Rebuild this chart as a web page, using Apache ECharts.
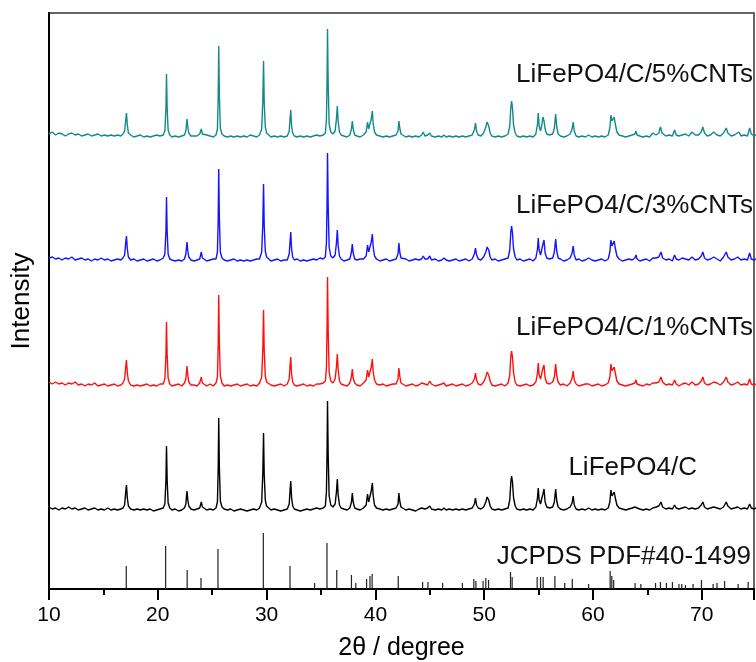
<!DOCTYPE html>
<html>
<head>
<meta charset="utf-8">
<title>XRD LiFePO4/C</title>
<script src="https://cdn.jsdelivr.net/npm/echarts@6/dist/echarts.min.js"></script>
<style>
  html, body { margin: 0; padding: 0; background: #fff; }
  .echarts_xrd { width: 756px; height: 662px; }
</style>
</head>
<body>
<div class="echarts_xrd"></div>
<script>
// 2θ (degree) / intensity, intensity relative to each pattern's own baseline
var cnt5 = [[10.0,2],[10.3,4],[10.6,1],[10.9,3],[11.2,2],[11.5,0],[11.8,2],[12.1,3],[12.4,1],[12.7,2],[13.0,0],[13.3,1],[13.6,2],[13.9,0],[14.2,1],[14.5,2],[14.8,0],[15.1,1],[15.4,0],[15.7,1],[16.0,0],[16.3,1],[16.6,0],[16.8,2],
  [16.95,5],[17.05,16],[17.12,23],[17.2,11],[17.3,3],[17.5,1],[17.8,-1],[18.1,0],[18.4,1],[18.7,-1],[19.0,0],[19.3,-1],[19.6,0],[19.9,1],[20.2,0],[20.5,1],
  [20.65,5],[20.75,28],[20.8,62],[20.86,28],[20.95,6],[21.1,1],[21.3,-1],[21.6,0],[21.9,-1],[22.2,0],[22.45,1],
  [22.58,5],[22.68,17],[22.76,9],[22.85,3],[22.95,1],[23.05,0],[23.2,2],[23.35,0],[23.6,0],[23.85,2],
  [24.0,7],[24.1,2],[24.25,0],[24.5,1],[24.8,0],[25.1,-1],[25.35,1],
  [25.48,7],[25.55,38],[25.6,90],[25.66,40],[25.75,8],[25.9,2],[26.1,0],[26.4,-1],[26.7,0],[27.0,-1],[27.3,0],[27.6,-1],[27.9,0],[28.2,-1],[28.5,1],[28.8,0],[29.1,-1],[29.35,1],
  [29.55,7],[29.65,34],[29.72,75],[29.78,34],[29.88,9],[30.0,3],[30.15,1],[30.4,-1],[30.7,0],[31.0,-1],[31.3,0],[31.6,-1],[31.9,0],
  [32.08,5],[32.16,18],[32.22,26],[32.3,10],[32.4,3],[32.55,0],[32.8,-1],[33.1,0],[33.4,-1],[33.7,0],[34.0,-1],[34.3,0],[34.6,1],[34.9,0],[35.2,1],[35.4,3],
  [35.5,16],[35.56,58],[35.6,107],[35.66,52],[35.75,12],[35.9,4],[36.1,2],[36.3,5],
  [36.42,17],[36.5,30],[36.58,14],[36.7,4],[36.85,1],[37.1,0],[37.4,-1],[37.65,1],
  [37.8,7],[37.88,15],[37.96,7],[38.1,1],[38.3,0],[38.6,-1],[38.9,1],[39.15,4],
  [39.28,14],[39.38,7],[39.5,9],[39.62,17],[39.72,25],[39.8,12],[39.92,4],[40.1,1],[40.4,0],[40.7,-1],[41.0,0],[41.3,-1],[41.6,0],[41.9,1],
  [42.08,5],[42.16,15],[42.24,8],[42.35,2],[42.5,0],[42.8,-1],[43.1,0],[43.4,-1],[43.7,0],[44.0,-1],[44.25,1],[44.4,4],[44.55,0],[44.8,1],[45.0,3],[45.15,0],[45.5,-1],[45.8,0],[46.1,-1],[46.3,1],[46.5,-1],[46.8,0],[47.1,-1],[47.4,0],[47.7,-1],[48.0,0],[48.3,-1],[48.6,0],[48.9,1],
  [49.1,6],[49.2,13],[49.3,5],[49.45,1],[49.7,0],[49.95,3],[50.15,9],[50.27,14],[50.42,10],[50.55,3],[50.7,0],[51.0,-1],[51.3,0],[51.6,-1],[51.9,0],[52.2,2],
  [52.35,10],[52.45,29],[52.52,35],[52.6,28],[52.7,11],[52.85,3],[53.0,0],[53.3,-1],[53.6,0],[53.9,-1],[54.2,0],[54.5,-1],[54.75,2],
  [54.9,12],[54.97,23],[55.05,10],[55.18,5],[55.3,11],[55.4,19],[55.5,15],[55.6,7],[55.75,2],[56.0,1],[56.3,2],
  [56.45,8],[56.57,22],[56.67,9],[56.8,2],[57.0,0],[57.3,-1],[57.6,0],[57.9,2],[58.08,7],[58.18,14],[58.28,5],[58.45,0],
  [58.7,-1],[59.0,0],[59.3,-1],[59.6,1],[59.9,-1],[60.2,0],[60.5,-1],[60.8,0],[61.1,-1],[61.4,1],
  [61.55,8],[61.65,21],[61.75,15],[61.85,17],[61.95,19],[62.05,12],[62.2,4],[62.4,1],
  [62.7,0],[63.0,-1],[63.3,0],[63.6,1],[63.85,2],[63.95,5],[64.05,1],[64.3,0],[64.6,-1],[64.9,0],[65.2,-1],[65.5,3],[65.8,1],[66.05,3],[66.2,9],[66.35,3],[66.7,0],[67.0,1],[67.3,0],[67.5,6],[67.65,1],[67.9,0],[68.2,1],[68.5,2],[68.8,0],[69.1,4],[69.4,1],[69.7,1],[69.95,4],[70.1,9],[70.25,3],[70.5,0],[70.8,1],[71.1,4],[71.4,1],[71.7,0],[72.0,3],[72.25,8],[72.4,3],[72.7,0],[73.0,1],[73.4,4],[73.6,0],[73.9,1],[74.2,0],[74.4,8],[74.55,2],[74.8,0],[75.0,1]];

var cnt3 = [[10.0,2],[10.3,3],[10.6,1],[10.9,2],[11.2,0],[11.5,2],[11.8,1],[12.1,3],[12.4,0],[12.7,1],[13.0,2],[13.3,0],[13.6,1],[13.9,-1],[14.2,1],[14.5,0],[14.8,2],[15.1,0],[15.4,1],[15.7,-1],[16.0,0],[16.3,1],[16.6,0],[16.8,2],
  [16.95,5],[17.05,17],[17.12,24],[17.2,11],[17.3,3],[17.5,0],[17.8,1],[18.1,-1],[18.4,0],[18.7,1],[19.0,-1],[19.3,0],[19.6,1],[19.9,-1],[20.2,0],[20.5,2],
  [20.65,6],[20.75,29],[20.8,63],[20.86,29],[20.95,6],[21.1,1],[21.3,0],[21.6,-1],[21.9,0],[22.2,-1],[22.45,1],
  [22.58,6],[22.68,18],[22.76,9],[22.85,3],[22.95,2],[23.05,0],[23.2,2],[23.35,-1],[23.6,0],[23.85,1],
  [24.0,8],[24.1,2],[24.25,0],[24.5,-1],[24.8,0],[25.1,1],[25.35,1],
  [25.48,8],[25.55,39],[25.6,91],[25.66,41],[25.75,8],[25.9,2],[26.1,0],[26.4,-1],[26.7,0],[27.0,1],[27.3,-1],[27.6,0],[27.9,-1],[28.2,0],[28.5,-1],[28.8,0],[29.1,1],[29.35,1],
  [29.55,8],[29.65,35],[29.72,76],[29.78,35],[29.88,9],[30.0,3],[30.15,1],[30.4,-1],[30.7,0],[31.0,1],[31.3,-1],[31.6,0],[31.9,0],
  [32.08,6],[32.16,19],[32.22,28],[32.3,11],[32.4,3],[32.55,0],[32.8,1],[33.1,-1],[33.4,0],[33.7,-1],[34.0,0],[34.3,1],[34.6,0],[34.9,2],[35.2,1],[35.4,3],
  [35.5,17],[35.56,59],[35.6,107],[35.66,54],[35.75,13],[35.9,4],[36.1,2],[36.3,5],
  [36.42,17],[36.5,30],[36.58,14],[36.7,4],[36.85,1],[37.1,-1],[37.4,0],[37.65,1],
  [37.8,8],[37.88,16],[37.96,7],[38.1,1],[38.3,0],[38.6,1],[38.9,1],[39.15,4],
  [39.28,15],[39.38,8],[39.5,9],[39.62,18],[39.72,26],[39.8,13],[39.92,4],[40.1,1],[40.4,-1],[40.7,0],[41.0,1],[41.3,-1],[41.6,0],[41.9,1],
  [42.08,6],[42.16,17],[42.24,8],[42.35,2],[42.5,0],[42.8,1],[43.1,-1],[43.4,0],[43.7,1],[44.0,0],[44.25,1],[44.4,4],[44.55,1],[44.8,1],[45.0,4],[45.15,0],[45.5,1],[45.8,-1],[46.1,0],[46.3,2],[46.5,0],[46.8,-1],[47.1,0],[47.4,1],[47.7,-1],[48.0,0],[48.3,1],[48.6,-1],[48.9,1],
  [49.1,6],[49.2,12],[49.3,5],[49.45,1],[49.7,0],[49.95,3],[50.15,8],[50.27,13],[50.42,10],[50.55,3],[50.7,0],[51.0,1],[51.3,-1],[51.6,0],[51.9,1],[52.2,2],
  [52.35,10],[52.45,28],[52.52,34],[52.6,27],[52.7,11],[52.85,3],[53.0,0],[53.3,1],[53.6,-1],[53.9,0],[54.2,1],[54.5,-1],[54.75,2],
  [54.9,11],[54.97,22],[55.05,10],[55.18,5],[55.3,11],[55.4,16],[55.5,20],[55.6,7],[55.75,2],[56.0,1],[56.3,2],
  [56.45,8],[56.57,21],[56.67,9],[56.8,2],[57.0,1],[57.3,-1],[57.6,0],[57.9,2],[58.08,7],[58.18,14],[58.28,5],[58.45,0],
  [58.7,1],[59.0,-1],[59.3,0],[59.6,2],[59.9,0],[60.2,-1],[60.5,0],[60.8,1],[61.1,-1],[61.4,1],
  [61.55,8],[61.65,20],[61.75,14],[61.85,16],[61.95,19],[62.05,12],[62.2,4],[62.4,1],
  [62.7,-1],[63.0,0],[63.3,1],[63.6,0],[63.85,2],[63.95,5],[64.05,1],[64.3,-1],[64.6,0],[64.9,1],[65.2,-1],[65.5,2],[65.8,2],[66.05,3],[66.25,8],[66.4,2],[66.7,0],[67.0,1],[67.3,-1],[67.5,5],[67.65,1],[67.9,0],[68.2,2],[68.5,1],[68.8,0],[69.1,3],[69.4,0],[69.7,1],[69.95,4],[70.1,8],[70.25,2],[70.5,0],[70.8,1],[71.1,3],[71.4,1],[71.7,-1],[72.0,3],[72.25,8],[72.4,3],[72.7,0],[73.0,1],[73.3,3],[73.6,0],[73.9,1],[74.2,0],[74.4,7],[74.55,1],[74.8,0],[75.0,1]];

var cnt1 = [[10.0,3],[10.3,1],[10.6,3],[10.9,1],[11.2,2],[11.5,0],[11.8,2],[12.1,1],[12.4,3],[12.7,0],[13.0,1],[13.3,-1],[13.6,1],[13.9,0],[14.2,2],[14.5,-1],[14.8,0],[15.1,1],[15.4,-1],[15.7,0],[16.0,1],[16.3,-1],[16.6,0],[16.8,2],
  [16.95,6],[17.05,18],[17.12,25],[17.2,12],[17.3,4],[17.5,0],[17.8,-1],[18.1,0],[18.4,-1],[18.7,0],[19.0,1],[19.3,-1],[19.6,0],[19.9,-1],[20.2,1],[20.5,1],
  [20.65,6],[20.75,30],[20.8,63],[20.86,30],[20.95,7],[21.1,1],[21.3,-1],[21.6,0],[21.9,1],[22.2,-1],[22.45,2],
  [22.58,6],[22.68,19],[22.76,10],[22.85,3],[22.95,2],[23.05,0],[23.2,2],[23.35,0],[23.6,-1],[23.85,2],
  [24.0,8],[24.1,2],[24.25,0],[24.5,-1],[24.8,1],[25.1,-1],[25.35,2],
  [25.48,8],[25.55,39],[25.6,90],[25.66,41],[25.75,9],[25.9,2],[26.1,-1],[26.4,0],[26.7,-1],[27.0,0],[27.3,1],[27.6,-1],[27.9,0],[28.2,1],[28.5,-1],[28.8,0],[29.1,-1],[29.35,2],
  [29.55,8],[29.65,35],[29.72,75],[29.78,35],[29.88,9],[30.0,3],[30.15,1],[30.4,0],[30.7,-1],[31.0,0],[31.3,1],[31.6,-1],[31.9,1],
  [32.08,6],[32.16,20],[32.22,28],[32.3,11],[32.4,3],[32.55,0],[32.8,-1],[33.1,0],[33.4,1],[33.7,-1],[34.0,0],[34.3,-1],[34.6,1],[34.9,1],[35.2,2],[35.4,4],
  [35.5,17],[35.56,60],[35.6,108],[35.66,55],[35.75,13],[35.9,4],[36.1,2],[36.3,6],
  [36.42,18],[36.5,31],[36.58,15],[36.7,4],[36.85,1],[37.1,0],[37.4,-1],[37.65,2],
  [37.8,8],[37.88,16],[37.96,7],[38.1,2],[38.3,0],[38.6,-1],[38.9,2],[39.15,5],
  [39.28,15],[39.38,8],[39.5,10],[39.62,18],[39.72,26],[39.8,13],[39.92,5],[40.1,1],[40.4,0],[40.7,1],[41.0,-1],[41.3,0],[41.6,1],[41.9,1],
  [42.08,6],[42.16,17],[42.24,9],[42.35,2],[42.5,0],[42.8,-1],[43.1,0],[43.4,1],[43.7,-1],[44.0,0],[44.25,2],[44.4,4],[44.55,1],[44.8,0],[45.0,4],[45.15,1],[45.5,-1],[45.8,0],[46.1,1],[46.3,2],[46.5,-1],[46.8,0],[47.1,1],[47.4,-1],[47.7,0],[48.0,1],[48.3,-1],[48.6,0],[48.9,2],
  [49.1,6],[49.2,12],[49.3,5],[49.45,1],[49.7,0],[49.95,3],[50.15,8],[50.27,13],[50.42,10],[50.55,4],[50.7,0],[51.0,-1],[51.3,0],[51.6,1],[51.9,-1],[52.2,2],
  [52.35,10],[52.45,29],[52.52,34],[52.6,28],[52.7,12],[52.85,3],[53.0,0],[53.3,-1],[53.6,0],[53.9,1],[54.2,-1],[54.5,0],[54.75,3],
  [54.9,12],[54.97,22],[55.05,10],[55.18,6],[55.3,12],[55.4,17],[55.5,20],[55.6,7],[55.75,2],[56.0,1],[56.3,3],
  [56.45,8],[56.57,21],[56.67,9],[56.8,3],[57.0,0],[57.3,1],[57.6,-1],[57.9,2],[58.08,7],[58.18,14],[58.28,5],[58.45,1],
  [58.7,-1],[59.0,0],[59.3,1],[59.6,1],[59.9,-1],[60.2,0],[60.5,1],[60.8,-1],[61.1,0],[61.4,2],
  [61.55,8],[61.65,21],[61.75,14],[61.85,16],[61.95,18],[62.05,12],[62.2,4],[62.4,1],
  [62.7,0],[63.0,-1],[63.3,0],[63.6,1],[63.85,2],[63.95,5],[64.05,1],[64.3,0],[64.6,-1],[64.9,1],[65.2,0],[65.5,2],[65.8,2],[66.05,3],[66.25,8],[66.4,3],[66.7,0],[67.0,1],[67.3,0],[67.5,5],[67.65,1],[67.9,-1],[68.2,1],[68.5,2],[68.8,0],[69.1,3],[69.4,0],[69.7,1],[69.95,4],[70.1,8],[70.25,2],[70.5,0],[70.8,1],[71.1,3],[71.4,2],[71.7,0],[72.0,3],[72.25,8],[72.4,3],[72.7,0],[73.0,1],[73.3,3],[73.6,0],[73.9,1],[74.2,0],[74.4,6],[74.55,1],[74.8,0],[75.0,1]];

var lfpc = [[10.0,3],[10.3,1],[10.6,2],[10.9,0],[11.2,2],[11.5,1],[11.8,3],[12.1,1],[12.4,2],[12.7,0],[13.0,1],[13.3,2],[13.6,0],[13.9,1],[14.2,2],[14.5,0],[14.8,1],[15.1,0],[15.4,2],[15.7,0],[16.0,1],[16.3,0],[16.6,1],[16.8,2],
  [16.95,5],[17.05,18],[17.12,25],[17.2,12],[17.3,4],[17.5,1],[17.8,0],[18.1,1],[18.4,0],[18.7,1],[19.0,0],[19.3,1],[19.6,-1],[19.9,0],[20.2,1],[20.5,2],
  [20.65,6],[20.75,30],[20.8,64],[20.86,30],[20.95,7],[21.1,2],[21.3,0],[21.6,1],[21.9,-1],[22.2,0],[22.45,2],
  [22.58,6],[22.68,19],[22.76,10],[22.85,4],[22.95,3],[23.05,1],[23.2,3],[23.35,0],[23.6,1],[23.85,2],
  [24.0,8],[24.1,3],[24.25,1],[24.5,0],[24.8,1],[25.1,0],[25.35,2],
  [25.48,8],[25.55,40],[25.6,92],[25.66,42],[25.75,9],[25.9,3],[26.1,1],[26.4,0],[26.7,1],[27.0,-1],[27.3,0],[27.6,1],[27.9,0],[28.2,-1],[28.5,0],[28.8,1],[29.1,0],[29.35,2],
  [29.55,8],[29.65,36],[29.72,77],[29.78,36],[29.88,10],[30.0,4],[30.15,2],[30.4,0],[30.7,1],[31.0,0],[31.3,-1],[31.6,0],[31.9,1],
  [32.08,6],[32.16,20],[32.22,29],[32.3,12],[32.4,4],[32.55,1],[32.8,0],[33.1,-1],[33.4,0],[33.7,1],[34.0,0],[34.3,1],[34.6,2],[34.9,1],[35.2,2],[35.4,4],
  [35.5,18],[35.56,60],[35.6,109],[35.66,55],[35.75,14],[35.9,5],[36.1,3],[36.3,6],
  [36.42,18],[36.5,31],[36.58,15],[36.7,5],[36.85,2],[37.1,1],[37.4,0],[37.65,2],
  [37.8,8],[37.88,17],[37.96,8],[38.1,2],[38.3,1],[38.6,0],[38.9,2],[39.15,5],
  [39.28,16],[39.38,8],[39.5,10],[39.62,19],[39.72,27],[39.8,14],[39.92,5],[40.1,2],[40.4,1],[40.7,0],[41.0,1],[41.3,0],[41.6,1],[41.9,2],
  [42.08,6],[42.16,17],[42.24,9],[42.35,3],[42.5,1],[42.8,0],[43.1,1],[43.4,0],[43.7,-1],[44.0,1],[44.25,2],[44.4,4],[44.55,1],[44.8,2],[45.0,4],[45.15,1],[45.5,0],[45.8,1],[46.1,0],[46.3,2],[46.5,0],[46.8,1],[47.1,0],[47.4,1],[47.7,0],[48.0,1],[48.3,0],[48.6,1],[48.9,2],
  [49.1,6],[49.2,12],[49.3,5],[49.45,2],[49.7,1],[49.95,3],[50.15,8],[50.27,13],[50.42,10],[50.55,4],[50.7,1],[51.0,0],[51.3,1],[51.6,0],[51.9,1],[52.2,2],
  [52.35,10],[52.45,28],[52.52,34],[52.6,28],[52.7,12],[52.85,4],[53.0,1],[53.3,0],[53.6,1],[53.9,0],[54.2,1],[54.5,0],[54.75,3],
  [54.9,12],[54.97,22],[55.05,10],[55.18,6],[55.3,12],[55.4,16],[55.5,21],[55.6,8],[55.75,3],[56.0,2],[56.3,3],
  [56.45,8],[56.57,21],[56.67,9],[56.8,3],[57.0,1],[57.3,0],[57.6,1],[57.9,3],[58.08,7],[58.18,14],[58.28,5],[58.45,1],
  [58.7,0],[59.0,1],[59.3,0],[59.6,2],[59.9,0],[60.2,1],[60.5,0],[60.8,1],[61.1,0],[61.4,2],
  [61.55,8],[61.65,20],[61.75,14],[61.85,16],[61.95,18],[62.05,12],[62.2,5],[62.4,2],
  [62.7,1],[63.0,0],[63.3,1],[63.6,2],[63.85,3],[63.95,5],[64.05,2],[64.3,1],[64.6,0],[64.9,1],[65.2,0],[65.5,2],[65.8,3],[66.05,4],[66.25,8],[66.4,3],[66.7,1],[67.0,2],[67.3,1],[67.5,5],[67.65,2],[67.9,1],[68.2,2],[68.5,3],[68.8,1],[69.1,2],[69.4,1],[69.7,2],[69.95,5],[70.1,8],[70.25,3],[70.5,1],[70.8,2],[71.1,3],[71.4,2],[71.7,1],[72.0,3],[72.25,8],[72.4,4],[72.7,1],[73.0,2],[73.3,3],[73.6,1],[73.9,2],[74.2,1],[74.4,6],[74.55,2],[74.8,1],[75.0,2]];

// JCPDS PDF#40-1499 reference lines: [2θ, relative height]
var jcpds = [[17.1,23],[20.72,43],[22.7,19],[23.97,11],[25.53,40],[29.7,56],[32.15,23],[34.41,6],[35.55,46],[36.45,19],[37.8,14],[38.2,6],
  [39.19,10],[39.5,13],[39.7,15],[42.1,13],[44.34,7],[44.83,7],[46.18,6],[48.0,6],[49.05,10],[49.24,8],[49.9,8],[50.15,11],[50.4,9],
  [52.42,17],[52.57,12],[54.87,12],[55.18,12],[55.42,12],[56.5,13],[57.4,6],[58.1,10],[59.6,5],[61.58,18],[61.73,13],[61.9,9],
  [63.87,6],[64.4,5],[65.75,6],[66.2,7],[66.75,6],[67.3,7],[67.9,5],[68.16,5],[68.5,4],[69.2,5],[69.97,9],[71.04,5],[71.4,6],
  [72.1,8],[73.34,5],[74.26,7]];

var names = ['LiFePO4/C/5%CNTs', 'LiFePO4/C/3%CNTs', 'LiFePO4/C/1%CNTs', 'LiFePO4/C'];
var patterns = [cnt5, cnt3, cnt1, lfpc];
var offsets = [453, 329, 204, 79];
var colors = ['#138a8a', '#1414ff', '#ff1010', '#000000'];
var xTicks = [10, 20, 30, 40, 50, 60, 70];

var chart = echarts.init(document.querySelector('.echarts_xrd'));

var font = 'Liberation Sans, Arial, sans-serif';

var series = patterns.map(function (p, i) {
  return {
    name: names[i],
    type: 'line',
    showSymbol: false,
    lineStyle: { width: 1.4, color: colors[i] },
    data: p.map(function (d) { return [d[0], d[1] + offsets[i]]; })
  };
});

// stick pattern
series.push({
  name: 'JCPDS PDF#40-1499',
  type: 'bar',
  barWidth: 1.2,
  itemStyle: { color: '#222' },
  data: jcpds
});

// labels on the right of each pattern
var labels = [
  { text: names[0], x: 753, y: 75 },
  { text: names[1], x: 753, y: 206 },
  { text: names[2], x: 753, y: 328 },
  { text: names[3], x: 697, y: 468 },
  { text: 'JCPDS PDF#40-1499', x: 751, y: 557 }
];

var option = {
  animation: false,
  backgroundColor: '#fff',
  grid: {
    left: 49, right: 2, top: 13, bottom: 73,
    outerBoundsMode: 'none',
    show: true, borderColor: '#333', borderWidth: 1.5
  },
  xAxis: {
    type: 'value',
    min: xTicks[0],
    max: 74.8,
    interval: 10,
    name: '2θ / degree',
    nameLocation: 'middle',
    nameGap: 47,
    nameTextStyle: { fontSize: 25, color: '#000', fontFamily: font },
    axisLine: { lineStyle: { color: '#000', width: 2 } },
    axisTick: { length: 11, lineStyle: { color: '#000', width: 2 } },
    minorTick: { show: true, splitNumber: 2, length: 6, lineStyle: { color: '#000', width: 2 } },
    axisLabel: { fontSize: 21, color: '#000', fontFamily: font, margin: 16, showMaxLabel: false },
    splitLine: { show: false }
  },
  yAxis: {
    type: 'value',
    min: 0,
    max: 576,
    name: 'Intensity',
    nameLocation: 'middle',
    nameGap: 14,
    nameTextStyle: { fontSize: 26, color: '#000', fontFamily: font },
    axisLine: { show: true, lineStyle: { color: '#000', width: 2 } },
    axisTick: { show: false },
    axisLabel: { show: false },
    splitLine: { show: false }
  },
  graphic: labels.map(function (l) {
    return {
      type: 'text',
      x: l.x,
      y: l.y,
      style: { text: l.text, fill: '#111', font: '26px ' + font, textAlign: 'right', textVerticalAlign: 'middle' }
    };
  }),
  series: series
};

chart.setOption(option);
</script>
</body>
</html>
